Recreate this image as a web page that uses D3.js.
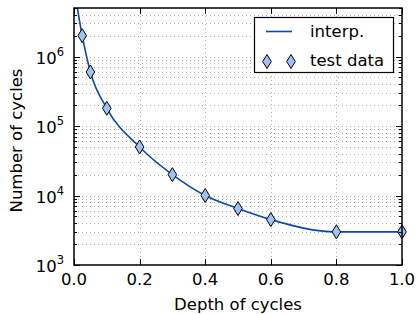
<!DOCTYPE html>
<html>
<head>
<meta charset="utf-8">
<script src="https://cdnjs.cloudflare.com/ajax/libs/d3/7.8.5/d3.min.js"></script>
<style>
  body { margin: 0; background: #fff; }
  svg text { font-family: "DejaVu Sans", sans-serif; fill: #000; }
  .grid line { stroke: #b0b0b0; stroke-width: 1; stroke-dasharray: 1,3; }
</style>
</head>
<body>
<svg id="chart" width="417" height="314"></svg>
<script>
// test data (depth of cycles vs number of cycles)
var depths = [0.025, 0.05, 0.1, 0.2, 0.3, 0.4, 0.5, 0.6, 0.8, 1.0];
var cycles = [2e6, 6e5, 1.8e5, 5e4, 2e4, 1e4, 6.5e3, 4.5e3, 3e3, 3e3];
var interpDepths = [0, 0.025, 0.05, 0.1, 0.2, 0.3, 0.4, 0.5, 0.6, 0.8, 1.0];
var interpCycles = [1e7, 2e6, 6e5, 1.8e5, 5e4, 2e4, 1e4, 6.5e3, 4.5e3, 3e3, 3e3];
var xTicks = [0, 0.2, 0.4, 0.6, 0.8, 1.0];
var yExponents = [3, 4, 5, 6];
var legendLabels = ["interp.", "test data"];

var lineColor = "#0b4aa6", markerFill = "#9cc3f3";
var fs = 16.5;
var pL = 74, pR = 402, pT = 8, pB = 265;
var svg = d3.select("#chart");

var x = d3.scaleLinear().domain([0, 1]).range([pL, pR]);
var y = d3.scaleLog().domain([1e3, 5e6]).range([pB, pT]);

svg.append("defs").append("clipPath").attr("id", "clip")
  .append("rect").attr("x", pL).attr("y", pT)
  .attr("width", pR - pL).attr("height", pB - pT);

// grid
var allY = y.ticks().filter(function(v) { return v > 1e3 && v < 5e6; });
var grid = svg.append("g").attr("class", "grid");
grid.selectAll(".gy").data(allY).enter().append("line")
  .attr("x1", pL).attr("x2", pR)
  .attr("y1", function(d) { return Math.round(y(d)) + 0.5; })
  .attr("y2", function(d) { return Math.round(y(d)) + 0.5; });
grid.selectAll(".gx").data(xTicks.slice(1, -1)).enter().append("line")
  .attr("y1", pT).attr("y2", pB)
  .attr("x1", function(d) { return Math.round(x(d)) + 0.5; })
  .attr("x2", function(d) { return Math.round(x(d)) + 0.5; });

// interp line
var line = d3.line()
  .x(function(d, i) { return x(interpDepths[i]); })
  .y(function(d) { return y(d); })
  .curve(d3.curveMonotoneX);
svg.append("path").attr("clip-path", "url(#clip)")
  .attr("d", line(interpCycles))
  .attr("fill", "none").attr("stroke", lineColor).attr("stroke-width", 1.6);

// diamonds
function diamond(g) {
  g.append("path").attr("d", "M0,-7L4.3,0L0,7L-4.3,0Z")
    .attr("fill", markerFill).attr("stroke", "#000").attr("stroke-width", 1);
}
svg.selectAll(".pt").data(cycles).enter().append("g")
  .attr("transform", function(d, i) { return "translate(" + x(depths[i]) + "," + y(d) + ")"; })
  .call(diamond);

// ticks
var ticks = svg.append("g").attr("stroke", "#000").attr("stroke-width", 1);
xTicks.forEach(function(t) {
  var px = Math.round(x(t)) + 0.5;
  ticks.append("line").attr("x1", px).attr("x2", px).attr("y1", pB).attr("y2", pB - 6);
  ticks.append("line").attr("x1", px).attr("x2", px).attr("y1", pT).attr("y2", pT + 6);
});
y.ticks().filter(function(v) { return v >= 1e3 && v <= 5e6; }).forEach(function(v) {
  var lg10 = Math.log10(v);
  var major = Math.abs(lg10 - Math.round(lg10)) < 1e-9;
  var len = major ? 6 : 3;
  var py = Math.round(y(v)) + 0.5;
  ticks.append("line").attr("x1", pL).attr("x2", pL + len).attr("y1", py).attr("y2", py);
  ticks.append("line").attr("x1", pR).attr("x2", pR - len).attr("y1", py).attr("y2", py);
});

// frame
svg.append("rect").attr("x", pL).attr("y", pT)
  .attr("width", pR - pL).attr("height", pB - pT)
  .attr("fill", "none").attr("stroke", "#000").attr("stroke-width", 1.5);

// tick labels
svg.selectAll(".xl").data(xTicks).enter().append("text")
  .attr("x", function(d) { return x(d); }).attr("y", 285)
  .attr("text-anchor", "middle").attr("font-size", fs)
  .text(function(d) { return d.toFixed(1); });
yExponents.forEach(function(e) {
  var t = svg.append("text").attr("x", 64).attr("y", y(Math.pow(10, e)) + 7)
    .attr("text-anchor", "end").attr("font-size", fs);
  t.append("tspan").text("10");
  t.append("tspan").attr("dy", -8).attr("font-size", 11.5).text(e);
});

// axis labels
svg.append("text").attr("x", x(0.5)).attr("y", 310)
  .attr("text-anchor", "middle").attr("font-size", fs).text("Depth of cycles");
svg.append("text").attr("transform", "translate(22," + ((pT + pB) / 2 + 4) + ") rotate(-90)")
  .attr("text-anchor", "middle").attr("font-size", fs).text("Number of cycles");

// legend
var lg = svg.append("g");
lg.append("rect").attr("x", 254.5).attr("y", 17.5).attr("width", 139).attr("height", 55)
  .attr("fill", "#fff").attr("stroke", "#000").attr("stroke-width", 1.2);
lg.append("line").attr("x1", 266).attr("x2", 292).attr("y1", 31.5).attr("y2", 31.5)
  .attr("stroke", lineColor).attr("stroke-width", 1.6);
lg.append("g").attr("transform", "translate(267,61.5)").call(diamond);
lg.append("g").attr("transform", "translate(291,61.5)").call(diamond);
lg.selectAll(".lt").data(legendLabels).enter().append("text")
  .attr("x", 310).attr("y", function(d, i) { return 37 + i * 29; })
  .attr("font-size", fs).text(function(d) { return d; });
</script>
</body>
</html>
